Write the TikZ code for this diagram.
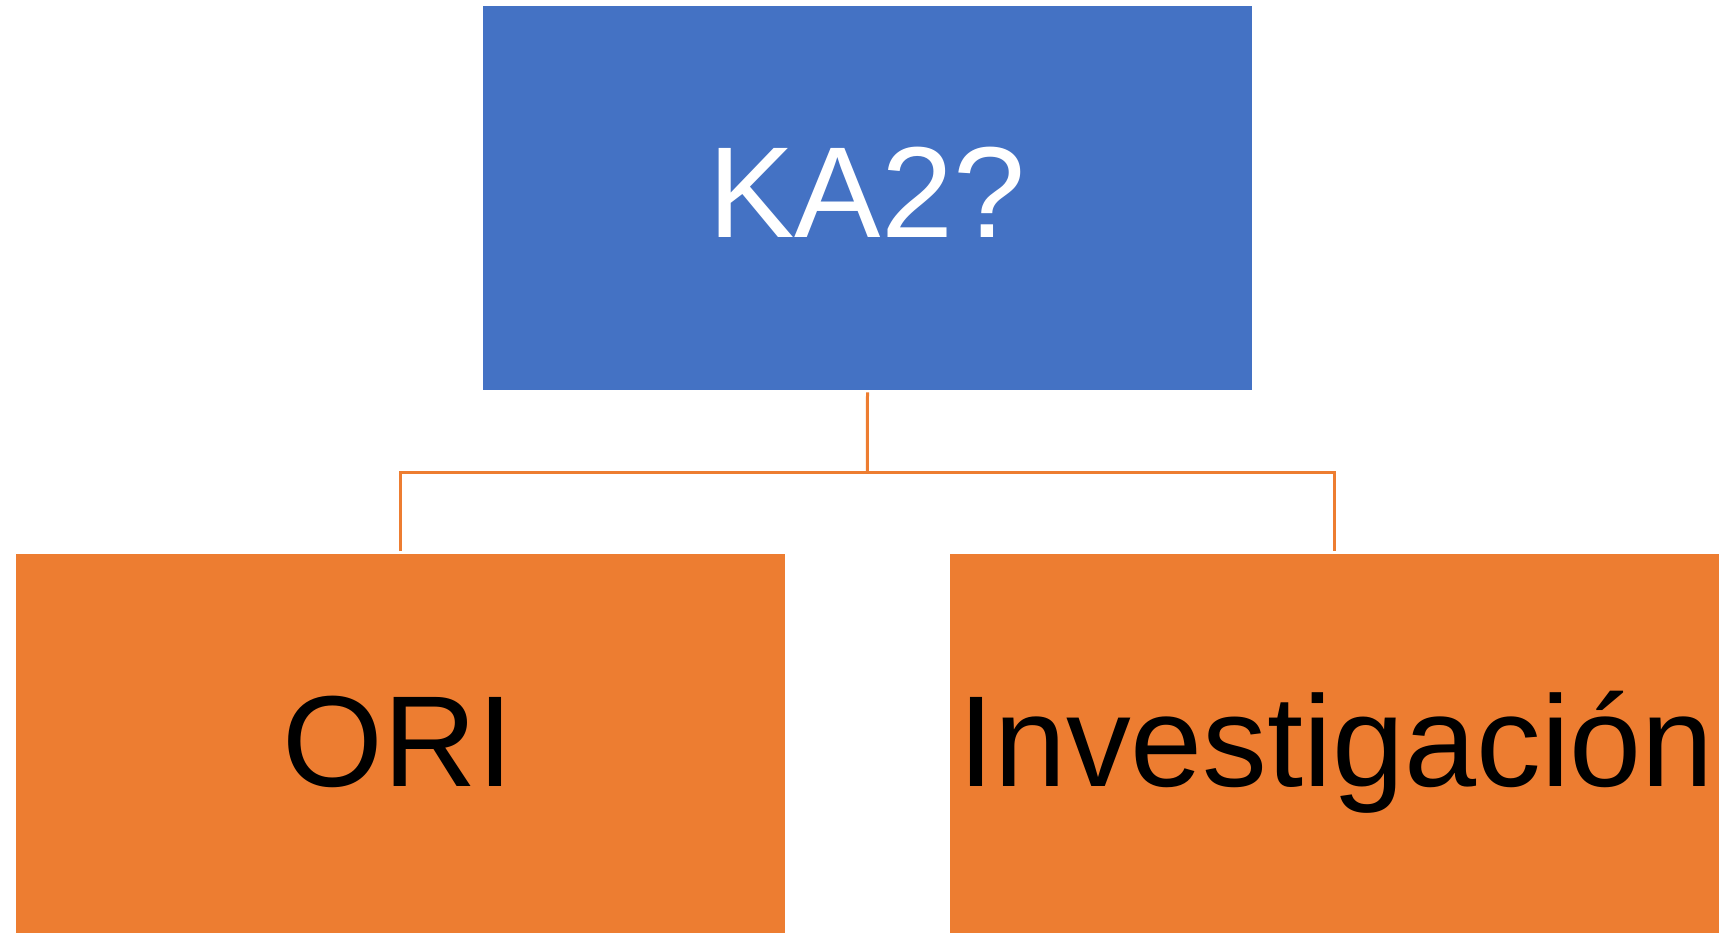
\documentclass[tikz,border=0pt]{standalone}
\usepackage{fontspec}
\setmainfont{Liberation Sans}
\definecolor{boxblue}{HTML}{4472C4}
\definecolor{boxorange}{HTML}{ED7D31}
\begin{document}
\begin{tikzpicture}[x=1pt,y=-1pt,
  box/.style={draw=none,inner sep=0pt,minimum width=769pt,minimum height=383pt},
  bigtext/.style={inner sep=0pt,anchor=base,font=\fontsize{129.5}{155}\selectfont},
  conn/.style={draw=boxorange,line width=3pt}]
\clip (0,0) rectangle (1719,933);
\useasboundingbox (0,0) rectangle (1719,933);
\node[box,fill=boxblue] (top) at (867.5,198) {};
\node[box,fill=boxorange] (left) at (400.5,745.5) {};
\node[box,fill=boxorange] (right) at (1334.5,745.5) {};
\node[bigtext,text=white] (ttop) at (867,237.7) {KA2?};
\node[bigtext,text=black] (tleft) at (398,786) {ORI};
\node[bigtext,text=black] (tright) at (1336,786) {Investigación};
\coordinate (j) at (867.3,472);
\draw[conn] ([yshift=-2.6pt]top.south) -- (j);
\draw[conn] ([yshift=2.6pt]left.north) |- (j) -| ([yshift=2.6pt]right.north);
\end{tikzpicture}
\end{document}
